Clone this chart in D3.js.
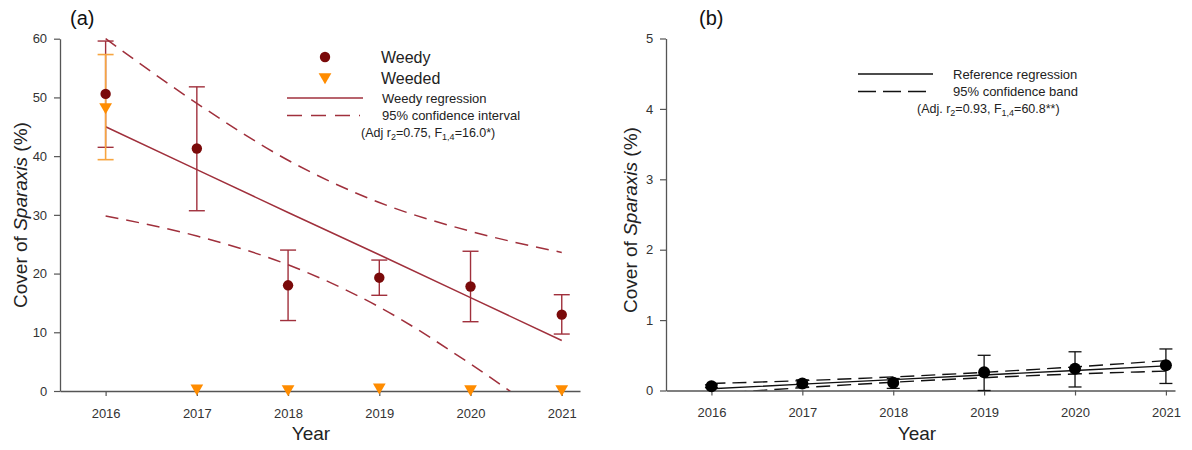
<!DOCTYPE html>
<html><head><meta charset="utf-8">
<script src="https://cdn.jsdelivr.net/npm/d3@7"></script>
<style>
body{margin:0;background:#fff;}
svg{font-family:"Liberation Sans",Arial,sans-serif;}
</style></head>
<body><svg id="c" width="1192" height="450"></svg>
<script>
const years = [2016, 2017, 2018, 2019, 2020, 2021];
// Panel (a)
const weedyMean = [50.6, 41.3, 18.0, 19.3, 17.8, 13.0];
const weedyHi   = [59.6, 51.8, 24.0, 22.3, 23.8, 16.4];
const weedyLo   = [41.5, 30.7, 12.0, 16.3, 11.8, 9.7];
const weededMean = [48.2, 0.3, 0.2, 0.5, 0.2, 0.2];
const weededHi   = [57.3, null, null, null, null, null];
const weededLo   = [39.4, null, null, null, null, null];
const weedyReg   = [45.0, 37.7, 30.4, 23.2, 15.9, 8.6];
const weedyCIhi  = [60.0, 49.0, 39.3, 32.1, 27.2, 23.6];
const weedyCIlo  = [29.8, 26.4, 21.5, 14.3, 4.6, -6.4];
const yTicksA = [0, 10, 20, 30, 40, 50, 60];
// Panel (b)
const refMean = [0.06, 0.10, 0.11, 0.26, 0.31, 0.36];
const refHi   = [0.08, 0.15, 0.17, 0.50, 0.55, 0.59];
const refLo   = [0.04, 0.05, 0.03, 0.00, 0.05, 0.10];
const refReg  = [0.025, 0.09, 0.155, 0.22, 0.285, 0.35];
const refCIhi = [0.10, 0.14, 0.193, 0.258, 0.335, 0.425];
const refCIlo = [-0.05, 0.04, 0.117, 0.182, 0.235, 0.275];
const yTicksB = [0, 1, 2, 3, 4, 5];

const svg = d3.select("#c");
const axisCol = "#555";
const tickCol = "#333";

function panel(o){
  const g = svg.append("g");
  const x = d3.scaleLinear().domain(o.xdom).range([o.x0, o.x1]);
  const y = d3.scaleLinear().domain([0, o.ymax]).range([o.y0, o.y1]);
  const clipId = "clip" + o.id;
  svg.append("clipPath").attr("id", clipId).append("rect")
    .attr("x", o.x0).attr("y", o.y1 - 2).attr("width", o.x1 - o.x0 + 2).attr("height", o.y0 - o.y1 + 2);

  const xa = g.append("g").attr("transform", `translate(0,${o.y0})`)
    .call(d3.axisBottom(x).tickValues(years).tickFormat(d3.format("d")).tickSize(5).tickSizeOuter(0));
  const ya = g.append("g").attr("transform", `translate(${o.x0},0)`)
    .call(d3.axisLeft(y).tickValues(o.yticks).tickFormat(d3.format("d")).tickSize(6).tickSizeOuter(0));
  [xa, ya].forEach(a => {
    a.select(".domain").attr("stroke", axisCol).attr("stroke-width", 1.3);
    a.selectAll(".tick line").attr("stroke", axisCol).attr("stroke-width", 1.2);
    a.selectAll(".tick text").attr("fill", tickCol).attr("font-size", 13)
      .attr("font-family", "Liberation Sans, Arial, sans-serif");
  });
  xa.selectAll(".tick text").attr("dy", "1.45em");
  ya.selectAll(".tick text").attr("dx", "-0.3em");

  g.append("text").attr("x", o.xt).attr("y", 440).attr("text-anchor", "middle")
    .attr("font-size", 19).attr("fill", "#222").text("Year");
  const yt = g.append("text").attr("transform", `translate(${o.yx},${o.yc}) rotate(-90)`)
    .attr("text-anchor", "middle").attr("font-size", 19).attr("fill", "#222");
  yt.append("tspan").text("Cover of ");
  yt.append("tspan").attr("font-style", "italic").text("Sparaxis");
  yt.append("tspan").text(" (%)");
  g.append("text").attr("x", o.lx).attr("y", 25).attr("font-size", 20).attr("fill", "#111").text(o.label);

  const plot = g.append("g").attr("clip-path", `url(#${clipId})`);
  return {g, x, y, plot};
}

function lineOf(x, y, vals, curve){
  return d3.line().x((d, i) => x(years[i])).y(d => y(d)).curve(curve || d3.curveLinear)(vals);
}

function errBars(g, x, y, hi, lo, col, cap, w){
  years.forEach((yr, i) => {
    if (hi[i] == null) return;
    const cx = x(yr);
    g.append("line").attr("x1", cx).attr("x2", cx).attr("y1", y(hi[i])).attr("y2", y(lo[i]))
      .attr("stroke", col).attr("stroke-width", w);
    [hi[i], lo[i]].forEach(v => g.append("line").attr("x1", cx - cap).attr("x2", cx + cap)
      .attr("y1", y(v)).attr("y2", y(v)).attr("stroke", col).attr("stroke-width", w));
  });
}

// ---------- Panel (a)
const A = panel({id:"a", x0:60, x1:580, y0:391, y1:38.7, ymax:60, yticks:yTicksA, xdom:[2015.5, 2021.2],
  xt:311, yx:27, yc:215, lx:70, label:"(a)"});
const lineCol = "#a0303c", weedyCol = "#7a0a0a", orange = "#ff8c00", orangeBar = "#f7a540";

A.plot.append("path").attr("d", lineOf(A.x, A.y, weedyReg)).attr("fill","none")
  .attr("stroke", lineCol).attr("stroke-width", 1.5);
[weedyCIhi, weedyCIlo].forEach(v => A.plot.append("path").attr("d", lineOf(A.x, A.y, v, d3.curveMonotoneX))
  .attr("fill","none").attr("stroke", lineCol).attr("stroke-width", 1.5).attr("stroke-dasharray","13,8"));

errBars(A.g, A.x, A.y, weedyHi, weedyLo, lineCol, 8, 1.4);
errBars(A.g, A.x, A.y, weededHi, weededLo, orangeBar, 8, 1.6);
A.g.selectAll(".wd").data(weedyMean).enter().append("circle")
  .attr("cx", (d, i) => A.x(years[i])).attr("cy", d => A.y(d)).attr("r", 5.2).attr("fill", weedyCol);
const tri = d3.symbol().type(d3.symbolTriangle).size(70);
A.g.selectAll(".we").data(weededMean).enter().append("path")
  .attr("d", tri).attr("fill", orange)
  .attr("transform", (d, i) => `translate(${A.x(years[i])},${A.y(d) - 1}) rotate(180)`);

// legend (a)
const la = A.g.append("g");
la.append("circle").attr("cx", 325).attr("cy", 57).attr("r", 5.2).attr("fill", weedyCol);
la.append("path").attr("d", tri).attr("fill", orange).attr("transform", "translate(325,77) rotate(180)");
la.append("text").attr("x", 381).attr("y", 63).attr("font-size", 16).attr("fill", "#222").text("Weedy");
la.append("text").attr("x", 381).attr("y", 84).attr("font-size", 16).attr("fill", "#222").text("Weeded");
la.append("line").attr("x1", 287).attr("x2", 363).attr("y1", 98).attr("y2", 98).attr("stroke", lineCol).attr("stroke-width", 1.5);
la.append("line").attr("x1", 287).attr("x2", 360).attr("y1", 115.5).attr("y2", 115.5).attr("stroke", lineCol)
  .attr("stroke-width", 1.5).attr("stroke-dasharray", "15,9");
la.append("text").attr("x", 382).attr("y", 102.5).attr("font-size", 13).attr("fill", "#222").text("Weedy regression");
la.append("text").attr("x", 382).attr("y", 120).attr("font-size", 13).attr("fill", "#222").text("95% confidence interval");
const ta = la.append("text").attr("x", 361).attr("y", 137).attr("font-size", 12.5).attr("fill", "#222");
ta.append("tspan").text("(Adj r");
ta.append("tspan").attr("font-size", 9).attr("dy", 3).text("2");
ta.append("tspan").attr("dy", -3).text("=0.75, F");
ta.append("tspan").attr("font-size", 9).attr("dy", 3).text("1,4");
ta.append("tspan").attr("dy", -3).text("=16.0*)");

// ---------- Panel (b)
const B = panel({id:"b", x0:666, x1:1175, y0:390.5, y1:38.5, ymax:5, yticks:yTicksB, xdom:[2015.5, 2021.1],
  xt:917, yx:637, yc:220, lx:699, label:"(b)"});

B.plot.append("path").attr("d", lineOf(B.x, B.y, refReg)).attr("fill","none")
  .attr("stroke", "#111").attr("stroke-width", 1.4);
[refCIhi, refCIlo].forEach(v => B.plot.append("path").attr("d", lineOf(B.x, B.y, v, d3.curveMonotoneX))
  .attr("fill","none").attr("stroke", "#111").attr("stroke-width", 1.4).attr("stroke-dasharray","14,7"));
errBars(B.g, B.x, B.y, refHi, refLo, "#111", 6.5, 1.3);
B.g.selectAll(".rf").data(refMean).enter().append("circle")
  .attr("cx", (d, i) => B.x(years[i])).attr("cy", d => B.y(d)).attr("r", 6).attr("fill", "#000");

const lb = B.g.append("g");
lb.append("line").attr("x1", 858).attr("x2", 933).attr("y1", 74).attr("y2", 74).attr("stroke", "#111").attr("stroke-width", 1.4);
lb.append("line").attr("x1", 858).attr("x2", 928).attr("y1", 91.5).attr("y2", 91.5).attr("stroke", "#111")
  .attr("stroke-width", 1.4).attr("stroke-dasharray", "18,7");
lb.append("text").attr("x", 953).attr("y", 78.5).attr("font-size", 13).attr("fill", "#222").text("Reference regression");
lb.append("text").attr("x", 953).attr("y", 96).attr("font-size", 13).attr("fill", "#222").text("95% confidence band");
const tb = lb.append("text").attr("x", 917).attr("y", 113).attr("font-size", 12.5).attr("fill", "#222");
tb.append("tspan").text("(Adj. r");
tb.append("tspan").attr("font-size", 9).attr("dy", 3).text("2");
tb.append("tspan").attr("dy", -3).text("=0.93, F");
tb.append("tspan").attr("font-size", 9).attr("dy", 3).text("1,4");
tb.append("tspan").attr("dy", -3).text("=60.8**)");
</script></body></html>
